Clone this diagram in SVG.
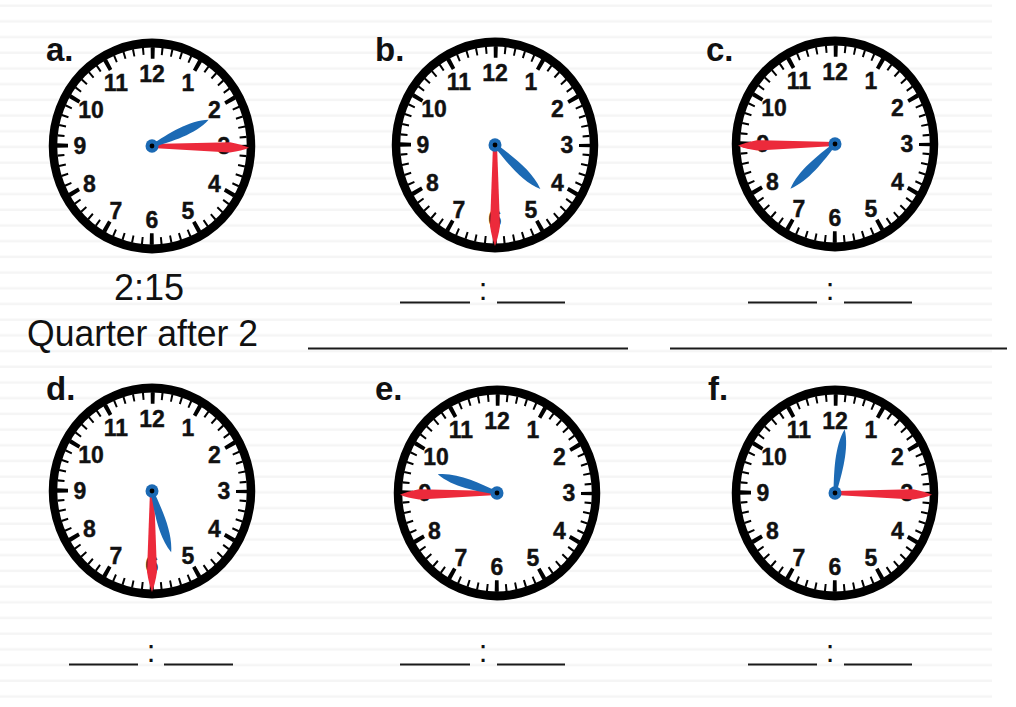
<svg xmlns="http://www.w3.org/2000/svg" xmlns:xlink="http://www.w3.org/1999/xlink" width="1016" height="707" viewBox="0 0 1016 707">
<style>
.lbl{font-family:"Liberation Sans",Arial,sans-serif;font-weight:bold;font-size:33px;fill:#111}
.num{font-family:"Liberation Sans",Arial,sans-serif;font-weight:bold;font-size:23px;fill:#111;stroke:#111;stroke-width:0.4;text-anchor:middle}
.hand-txt{font-family:"Liberation Sans",Arial,sans-serif;font-size:36px;fill:#111}
.colon{font-family:"Liberation Sans",Arial,sans-serif;font-size:31px;fill:#111;text-anchor:middle}
.blank{stroke:#1a1a1a;stroke-width:2;fill:none}
</style>
<defs>
<pattern id="stripes" patternUnits="userSpaceOnUse" x="0" y="0" width="20" height="15.7">
<rect x="0" y="4.4" width="20" height="2.4" fill="#f5f5f5"/>
</pattern>
<g id="dial">
<circle r="99" fill="#fff" stroke="#000" stroke-width="8.5"/>
<circle r="91.5" fill="none" stroke="#000" stroke-width="7" stroke-dasharray="2 7.582" stroke-dashoffset="1"/>
<circle r="89.5" fill="none" stroke="#000" stroke-width="11" stroke-dasharray="4 42.865" stroke-dashoffset="2"/>
</g>
<path id="min" d="M -2,0 L -5,-78 Q -3,-90 0,-97 Q 3,-90 5,-78 L 2,0 Z" fill="#ec2a3b"/>
<path id="hr" d="M -1.5,0 C -4,-20 -7.5,-44 0,-62 C 7.5,-44 4,-20 1.5,0 Z" fill="#1c6ab4"/>
<g id="hub">
<circle r="6.5" fill="#1c6ab4"/>
<circle r="2.4" fill="#000"/>
</g>
</defs>
<rect width="1016" height="707" fill="#fff"/>
<rect width="992" height="707" fill="url(#stripes)"/>

<g id="clock-a">
<text class="lbl" x="46" y="61">a.</text>
<g transform="translate(152,146) scale(1,1.04)">
<use href="#dial"/>
<text class="num" x="0" y="-62">12</text>
<text class="num" x="36" y="-53">1</text>
<text class="num" x="62.5" y="-27">2</text>
<text class="num" x="72" y="8">3</text>
<text class="num" x="62.5" y="44">4</text>
<text class="num" x="36" y="70">5</text>
<text class="num" x="0" y="79">6</text>
<text class="num" x="-36" y="70">7</text>
<text class="num" x="-62.5" y="44">8</text>
<text class="num" x="-72" y="8">9</text>
<text class="num" x="-61" y="-27">10</text>
<text class="num" x="-36" y="-53">11</text>
<use href="#min" transform="rotate(91)"/>
<use href="#hr" transform="rotate(66)"/>
<use href="#hub"/>
</g>
</g>

<g id="clock-b">
<text class="lbl" x="375" y="61">b.</text>
<g transform="translate(495,145) scale(1,1.04)">
<use href="#dial"/>
<text class="num" x="0" y="-62">12</text>
<text class="num" x="36" y="-53">1</text>
<text class="num" x="62.5" y="-27">2</text>
<text class="num" x="72" y="8">3</text>
<text class="num" x="62.5" y="44">4</text>
<text class="num" x="36" y="70">5</text>
<text class="num" x="0" y="79">6</text>
<text class="num" x="-36" y="70">7</text>
<text class="num" x="-62.5" y="44">8</text>
<text class="num" x="-72" y="8">9</text>
<text class="num" x="-61" y="-27">10</text>
<text class="num" x="-36" y="-53">11</text>
<use href="#min" transform="rotate(180)"/>
<use href="#hr" transform="rotate(133)"/>
<use href="#hub"/>
</g>
</g>

<g id="clock-c">
<text class="lbl" x="706" y="61">c.</text>
<g transform="translate(835,144) scale(1,1.04)">
<use href="#dial"/>
<text class="num" x="0" y="-62">12</text>
<text class="num" x="36" y="-53">1</text>
<text class="num" x="62.5" y="-27">2</text>
<text class="num" x="72" y="8">3</text>
<text class="num" x="62.5" y="44">4</text>
<text class="num" x="36" y="70">5</text>
<text class="num" x="0" y="79">6</text>
<text class="num" x="-36" y="70">7</text>
<text class="num" x="-62.5" y="44">8</text>
<text class="num" x="-72" y="8">9</text>
<text class="num" x="-61" y="-27">10</text>
<text class="num" x="-36" y="-53">11</text>
<use href="#min" transform="rotate(269)"/>
<use href="#hr" transform="rotate(226)"/>
<use href="#hub"/>
</g>
</g>

<g id="clock-d">
<text class="lbl" x="46" y="400">d.</text>
<g transform="translate(152,491) scale(1,1.04)">
<use href="#dial"/>
<text class="num" x="0" y="-62">12</text>
<text class="num" x="36" y="-53">1</text>
<text class="num" x="62.5" y="-27">2</text>
<text class="num" x="72" y="8">3</text>
<text class="num" x="62.5" y="44">4</text>
<text class="num" x="36" y="70">5</text>
<text class="num" x="0" y="79">6</text>
<text class="num" x="-36" y="70">7</text>
<text class="num" x="-62.5" y="44">8</text>
<text class="num" x="-72" y="8">9</text>
<text class="num" x="-61" y="-27">10</text>
<text class="num" x="-36" y="-53">11</text>
<use href="#min" transform="rotate(180)"/>
<use href="#hr" transform="rotate(162)"/>
<use href="#hub"/>
</g>
</g>

<g id="clock-e">
<text class="lbl" x="375" y="400">e.</text>
<g transform="translate(497,493) scale(1,1.04)">
<use href="#dial"/>
<text class="num" x="0" y="-62">12</text>
<text class="num" x="36" y="-53">1</text>
<text class="num" x="62.5" y="-27">2</text>
<text class="num" x="72" y="8">3</text>
<text class="num" x="62.5" y="44">4</text>
<text class="num" x="36" y="70">5</text>
<text class="num" x="0" y="79">6</text>
<text class="num" x="-36" y="70">7</text>
<text class="num" x="-62.5" y="44">8</text>
<text class="num" x="-72" y="8">9</text>
<text class="num" x="-61" y="-27">10</text>
<text class="num" x="-36" y="-53">11</text>
<use href="#min" transform="rotate(269)"/>
<use href="#hr" transform="rotate(287)"/>
<use href="#hub"/>
</g>
</g>

<g id="clock-f">
<text class="lbl" x="708" y="400">f.</text>
<g transform="translate(835,493) scale(1,1.04)">
<use href="#dial"/>
<text class="num" x="0" y="-62">12</text>
<text class="num" x="36" y="-53">1</text>
<text class="num" x="62.5" y="-27">2</text>
<text class="num" x="72" y="8">3</text>
<text class="num" x="62.5" y="44">4</text>
<text class="num" x="36" y="70">5</text>
<text class="num" x="0" y="79">6</text>
<text class="num" x="-36" y="70">7</text>
<text class="num" x="-62.5" y="44">8</text>
<text class="num" x="-72" y="8">9</text>
<text class="num" x="-61" y="-27">10</text>
<text class="num" x="-36" y="-53">11</text>
<use href="#min" transform="rotate(91)"/>
<use href="#hr" transform="rotate(9)"/>
<use href="#hub"/>
</g>
</g>

<g id="answers">
<text class="hand-txt" x="149" y="300" text-anchor="middle">2:15</text>
<text class="hand-txt" x="27" y="346" textLength="231" lengthAdjust="spacingAndGlyphs">Quarter after 2</text>
<g id="blank-b"><path class="blank" d="M400,302.5 H470 M497,302.5 H565"/><text class="colon" x="483" y="300">:</text></g>
<g id="blank-c"><path class="blank" d="M748,302.5 H817 M844,302.5 H912"/><text class="colon" x="830" y="300">:</text></g>
<path class="blank" d="M308,348.5 H628 M670,348.5 H1007"/>
<g id="blank-d"><path class="blank" d="M69,664.5 H138 M164,664.5 H233"/><text class="colon" x="151" y="662">:</text></g>
<g id="blank-e"><path class="blank" d="M400,664.5 H470 M497,664.5 H565"/><text class="colon" x="483" y="662">:</text></g>
<g id="blank-f"><path class="blank" d="M748,664.5 H817 M844,664.5 H912"/><text class="colon" x="830" y="662">:</text></g>
</g>
</svg>
